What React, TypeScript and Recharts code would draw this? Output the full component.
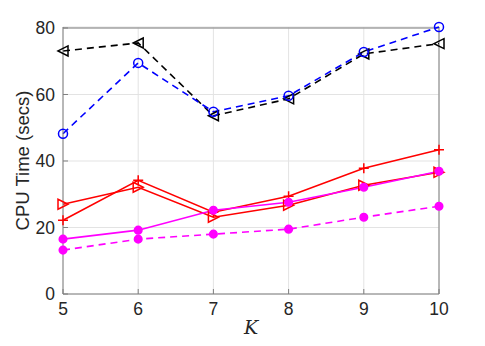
import { LineChart, Line, XAxis, YAxis, CartesianGrid, ReferenceLine } from "recharts";

const kValues = [5, 6, 7, 8, 9, 10];
const blackTri = [73.1, 75.5, 53.6, 58.7, 72.2, 75.3];
const blueCircle = [48.2, 69.5, 54.8, 59.6, 72.8, 80.3];
const redPlus = [22.2, 34.2, 24.6, 29.4, 37.8, 43.4];
const redTri = [27.0, 32.1, 23.1, 26.7, 32.7, 36.6];
const magentaSolid = [16.5, 19.2, 25.2, 27.6, 32.1, 36.9];
const magentaDash = [13.2, 16.5, 18.0, 19.5, 23.1, 26.4];
const xTicks = [5, 6, 7, 8, 9, 10];
const yTicks = [0, 20, 40, 60, 80];

const data = kValues.map((k, i) => ({
  k,
  blackTri: blackTri[i],
  blueCircle: blueCircle[i],
  redPlus: redPlus[i],
  redTri: redTri[i],
  magentaSolid: magentaSolid[i],
  magentaDash: magentaDash[i],
}));

const TriLeft = (color: string) => (p: any) => {
  const { cx, cy, index } = p;
  const s = 5;
  return (
    <polygon
      key={index}
      points={`${cx - s},${cy} ${cx + s},${cy - s} ${cx + s},${cy + s}`}
      fill="none"
      stroke={color}
      strokeWidth={1.5}
    />
  );
};

const TriRight = (color: string) => (p: any) => {
  const { cx, cy, index } = p;
  const s = 5;
  return (
    <polygon
      key={index}
      points={`${cx + s},${cy} ${cx - s},${cy - s} ${cx - s},${cy + s}`}
      fill="none"
      stroke={color}
      strokeWidth={1.5}
    />
  );
};

const Circle = (color: string, filled: boolean) => (p: any) => {
  const { cx, cy, index } = p;
  return (
    <circle
      key={index}
      cx={cx}
      cy={cy}
      r={filled ? 3.8 : 4.5}
      fill={filled ? color : "none"}
      stroke={color}
      strokeWidth={1.5}
    />
  );
};

const Plus = (color: string) => (p: any) => {
  const { cx, cy, index } = p;
  const s = 5;
  return (
    <path
      key={index}
      d={`M${cx - s},${cy} L${cx + s},${cy} M${cx},${cy - s} L${cx},${cy + s}`}
      stroke={color}
      strokeWidth={1.5}
    />
  );
};

const font = "'Liberation Sans', Arial, Helvetica, sans-serif";
const axisColor = "#7f7f7f";

export default function App() {
  return (
    <div style={{ position: "absolute", left: 0, top: 0, width: 485, height: 346, background: "#fff" }}>
      <LineChart
        width={485}
        height={346}
        data={data}
        margin={{ top: 27, right: 46, bottom: 12, left: 0 }}
      >
        <CartesianGrid stroke="#e3e3e3" strokeWidth={1} />
        <XAxis
          dataKey="k"
          type="number"
          domain={[5, 10]}
          ticks={xTicks}
          height={40}
          stroke={axisColor}
          tickSize={-5}
          tickMargin={14}
          tick={{ fill: "#262626", fontSize: 17.5, fontFamily: font }}
          label={{
            value: "K",
            position: "insideBottom",
            offset: 0,
            fill: "#262626",
            fontSize: 19,
            fontStyle: "italic",
            fontFamily: "'DejaVu Serif', 'Liberation Serif', serif",
          }}
        />
        <YAxis
          type="number"
          domain={[0, 80]}
          ticks={yTicks}
          width={63}
          stroke={axisColor}
          tickSize={-5}
          tickMargin={13}
          tick={{ fill: "#262626", fontSize: 17.5, fontFamily: font }}
          label={{
            value: "CPU Time (secs)",
            angle: -90,
            position: "insideLeft",
            offset: 22,
            style: { textAnchor: "middle" },
            fill: "#262626",
            fontSize: 18.5,
            fontFamily: font,
          }}
        />
        <ReferenceLine y={80} stroke={axisColor} strokeWidth={1} />
        <ReferenceLine x={10} stroke={axisColor} strokeWidth={1} />
        <Line
          dataKey="blackTri"
          stroke="#000000"
          strokeWidth={1.6}
          strokeDasharray="7 5"
          dot={TriLeft("#000000")}
          isAnimationActive={false}
        />
        <Line
          dataKey="blueCircle"
          stroke="#0000ff"
          strokeWidth={1.6}
          strokeDasharray="7 5"
          dot={Circle("#0000ff", false)}
          isAnimationActive={false}
        />
        <Line
          dataKey="redPlus"
          stroke="#ff0000"
          strokeWidth={1.6}
          dot={Plus("#ff0000")}
          isAnimationActive={false}
        />
        <Line
          dataKey="redTri"
          stroke="#ff0000"
          strokeWidth={1.6}
          dot={TriRight("#ff0000")}
          isAnimationActive={false}
        />
        <Line
          dataKey="magentaSolid"
          stroke="#ff00ff"
          strokeWidth={1.6}
          dot={Circle("#ff00ff", true)}
          isAnimationActive={false}
        />
        <Line
          dataKey="magentaDash"
          stroke="#ff00ff"
          strokeWidth={1.6}
          strokeDasharray="7 5"
          dot={Circle("#ff00ff", true)}
          isAnimationActive={false}
        />
      </LineChart>
    </div>
  );
}
